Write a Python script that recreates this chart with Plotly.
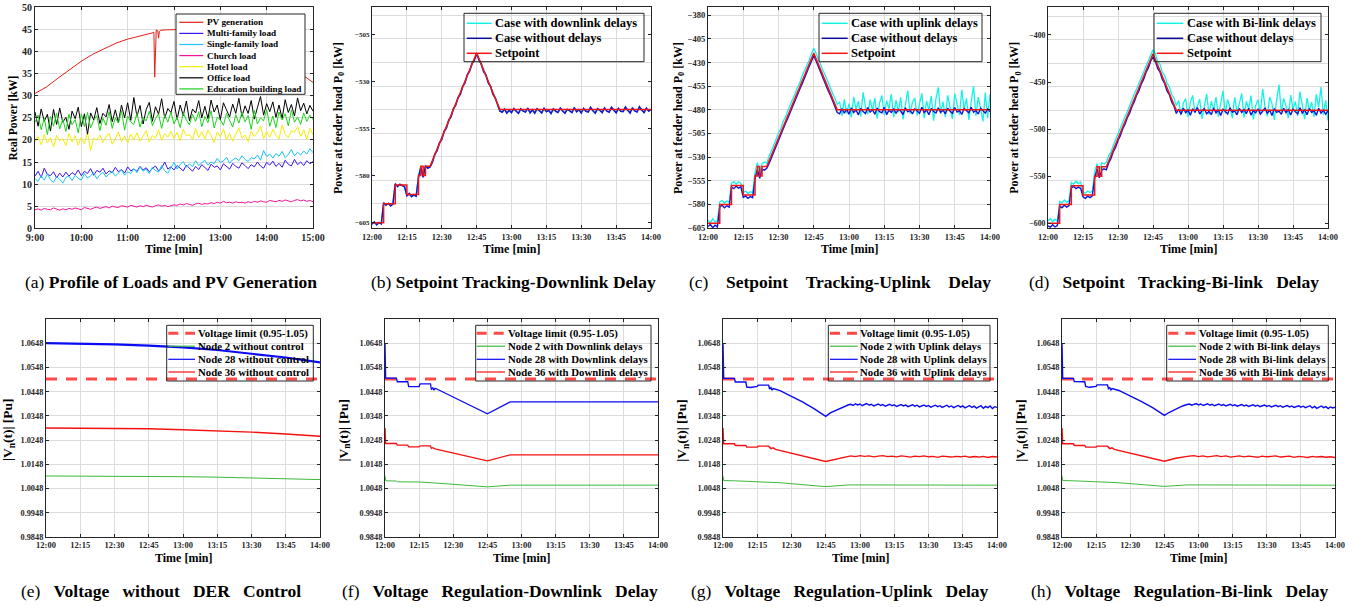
import plotly.graph_objects as go

W, H = 1359, 607
FONT = "Liberation Serif, Times New Roman, Times, serif"
GRID = "#dcdcdc"
AXC = "#262626"
NB = "\u00a0"


def px(x):
    return x / W


def py(y):
    return 1 - y / H


# ======================= DATA =======================
# ---- (a) Profile of loads and PV generation (minutes after 9:00) ----
a_tick_vals = [0, 60, 120, 180, 240, 300, 360]
a_tick_text = ["9:00", "10:00", "11:00", "12:00", "13:00", "14:00", "15:00"]
load_time = list(range(0, 361, 4))
pv_time = [0, 5, 15, 30, 45, 60, 75, 90, 105, 120, 135, 150, 154, 155, 156, 157, 159, 160, 161, 163,
           170, 180, 195, 210, 225, 240, 255, 270, 285, 300, 315, 330, 345, 360]
pv_power = [30.5, 31.0, 32.0, 34.0, 36.0, 37.8, 39.4, 40.7, 41.9, 42.8, 43.5, 44.1, 44.3, 34.2, 44.0, 44.9,
            44.7, 43.0, 44.5, 44.8, 44.9, 45.0, 45.0, 44.9, 44.6, 44.1, 43.3, 42.2, 41.0, 39.6, 38.2, 36.6,
            34.9, 33.0]
multi_family = [
    11.8, 12.9, 11.5, 13.6, 12.2, 11.9, 12.8, 11.4, 12.5, 11.6, 12.7,
    11.8, 12.6, 12.1, 13.2, 11.9, 12.9, 12.4, 13.5, 12.0, 13.1, 12.7,
    13.6, 12.3, 13.0, 12.6, 13.8, 12.8, 13.3, 12.5, 13.9, 13.0, 13.4,
    12.9, 14.0, 13.2, 13.7, 12.8, 13.5, 14.1, 13.0, 13.6, 15.0, 13.4,
    13.9, 13.2, 14.2, 13.6, 13.0, 14.3, 13.5, 12.9, 14.0, 13.3, 14.4,
    13.7, 13.1, 14.5, 13.8, 14.1, 13.2, 14.6, 13.9, 13.4, 14.7, 14.0,
    13.6, 14.8, 14.2, 13.5, 14.4, 13.9, 15.0, 14.1, 13.6, 14.9, 14.3,
    15.2, 14.0, 14.7, 13.8, 15.4, 14.5, 14.1, 15.6, 14.4, 15.0, 14.2,
    15.3, 14.6, 15.1]
single_family = [
    11.2, 10.6, 11.9, 10.9, 12.3, 11.0, 10.4, 11.7, 11.1, 10.2, 11.5,
    11.8, 10.8, 12.0, 11.3, 10.9, 12.4, 11.4, 11.9, 12.6, 11.2, 12.1,
    12.7, 11.6, 12.3, 12.9, 11.8, 12.5, 13.2, 12.0, 12.8, 12.4, 13.5,
    12.6, 13.9, 12.9, 13.4, 12.4, 13.8, 13.1, 12.7, 14.2, 13.0, 12.5,
    13.7, 14.9, 13.4, 14.4, 15.1, 13.8, 14.6, 13.9, 15.3, 14.2, 14.8,
    15.4, 14.3, 15.0, 14.6, 15.8, 14.9, 15.2, 16.1, 14.7, 15.5, 15.9,
    15.3, 16.4, 15.6, 15.1, 16.0, 15.7, 16.6, 15.4, 17.6, 16.2, 16.8,
    15.9, 16.9, 16.3, 17.4, 16.0, 16.7, 17.8, 16.4, 17.2, 16.6, 17.5,
    16.8, 18.0, 17.1]
church_load = [
    4.2, 4.4, 4.1, 4.5, 4.3, 4.2, 4.6, 4.3, 4.1, 4.4, 4.2,
    4.5, 4.3, 4.6, 4.4, 4.2, 4.7, 4.5, 4.3, 4.6, 4.8, 4.5,
    4.7, 4.9, 4.6, 5.0, 4.8, 4.7, 5.1, 4.9, 4.8, 5.2, 5.0,
    4.8, 5.1, 4.9, 5.2, 5.0, 4.8, 5.1, 5.3, 5.0, 5.2, 4.9,
    5.1, 5.3, 5.2, 5.5, 5.3, 5.6, 5.4, 5.2, 5.5, 5.7, 5.4,
    5.6, 5.5, 5.8, 5.6, 5.9, 5.7, 6.1, 5.8, 5.9, 5.7, 6.0,
    5.8, 5.9, 5.7, 6.0, 5.8, 6.1, 5.9, 6.2, 6.0, 5.9, 6.3,
    6.1, 6.0, 6.3, 6.1, 6.4, 6.2, 6.0, 6.3, 6.5, 6.2, 6.4,
    6.1, 6.3, 6.0]
hotel_load = [
    19.6, 20.8, 18.9, 21.2, 19.3, 20.5, 18.4, 21.0, 19.8, 20.3, 18.7,
    21.4, 19.5, 20.9, 18.8, 20.6, 19.1, 21.7, 17.6, 20.4, 19.9, 21.1,
    19.4, 20.7, 21.5, 19.0, 20.2, 21.8, 19.6, 20.9, 19.3, 21.3, 20.0,
    21.6, 19.7, 20.8, 22.1, 19.5, 21.0, 20.4, 22.3, 19.9, 21.4, 20.6,
    22.0, 20.3, 21.7, 19.8, 22.4, 20.9, 21.2, 20.1, 22.6, 20.5, 21.9,
    20.2, 22.2, 21.0, 19.4, 21.8, 20.7, 22.5, 20.0, 21.5, 19.7, 21.3,
    22.7, 20.4, 21.1, 19.6, 22.0, 20.8, 21.6, 23.2, 20.3, 21.9, 20.6,
    22.4, 21.0, 20.2, 23.4, 21.3, 20.5, 22.1, 21.7, 23.0, 20.8, 22.3,
    20.1, 22.6, 21.2]
office_load = [
    26.3, 23.1, 27.0, 24.2, 25.8, 22.0, 26.9, 23.5, 27.2, 24.0, 25.1,
    22.4, 26.5, 24.8, 27.4, 23.0, 25.9, 21.3, 26.1, 24.5, 27.3, 23.7,
    26.0, 25.2, 28.0, 24.1, 26.8, 23.9, 27.9, 25.0, 28.4, 24.4, 29.6,
    25.3, 27.8, 23.6, 26.9, 28.5, 24.2, 27.5, 25.8, 29.3, 24.9, 27.1,
    26.2, 28.7, 24.6, 27.9, 25.5, 28.8, 24.3, 27.0, 26.1, 28.9, 25.0,
    27.6, 24.8, 29.0, 26.3, 27.9, 24.5, 28.4, 26.8, 25.2, 28.1, 26.0,
    29.4, 25.3, 27.7, 26.0, 28.9, 24.7, 27.3, 29.8, 25.6, 28.2, 26.4,
    28.6, 25.1, 27.9, 24.8, 29.1, 26.2, 28.0, 25.4, 29.5, 26.6, 28.3,
    25.9, 27.8, 26.5]
education_load = [
    24.0, 25.6, 22.3, 24.9, 21.2, 25.3, 23.1, 26.0, 22.5, 24.7, 21.9,
    25.8, 23.4, 24.6, 21.6, 25.9, 23.0, 26.2, 22.7, 24.4, 25.5, 22.1,
    24.9, 23.3, 26.4, 22.6, 25.0, 23.8, 26.6, 22.2, 25.4, 24.1, 23.5,
    26.0, 22.9, 25.1, 24.3, 26.5, 23.2, 24.8, 25.9, 22.6, 25.6, 24.0,
    26.3, 23.6, 25.2, 22.8, 26.1, 24.5, 23.4, 25.8, 24.2, 26.4, 23.0,
    25.3, 23.9, 26.6, 22.7, 25.1, 24.6, 23.3, 26.0, 24.4, 22.9, 25.7,
    23.8, 26.2, 24.1, 25.5, 22.4, 26.7, 23.6, 25.0, 24.3, 26.9, 23.1,
    25.4, 22.8, 26.3, 24.5, 25.9, 23.2, 26.8, 24.0, 25.2, 23.5, 26.1,
    24.2, 25.6, 24.6]

# ---- (b)-(h) time axis: minutes after 12:00 ----
time_tick_vals = [0, 15, 30, 45, 60, 75, 90, 105, 120]
time_tick_text = ["12:00", "12:15", "12:30", "12:45", "13:00", "13:15", "13:30", "13:45", "14:00"]
minute = list(range(0, 121))

# ---- (b) setpoint tracking, downlink delay ----
b_ytick = [-605, -580, -555, -530, -505]
b_grid = [-595, -582.5, -570, -557.5, -545, -532.5, -520, -507.5, -495]
sp_b_time = [0, 5, 5, 10, 10, 15, 15, 20, 20, 21, 21, 22, 22, 23, 23, 25, 45, 55, 120]
sp_b_power = [-605, -605, -595, -595, -585, -585, -590, -590, -580, -580, -575, -575, -580, -580, -575, -575,
              -515, -545, -545]
nodelay_b = [
    -605.9, -604.6, -606.2, -604.9, -605.7, -594.4, -595.8, -594.7, -596.1, -595.2,
    -584.3, -585.9, -584.6, -585.4, -586.0, -590.7, -589.5, -591.2, -590.3, -591.0,
    -580.8, -575.6, -580.9, -574.8, -576.1, -575.4, -572.9, -568.6, -566.8, -562.7,
    -560.9, -556.5, -554.8, -550.6, -548.9, -544.4, -542.7, -538.5, -536.9, -532.6,
    -530.8, -526.4, -524.6, -520.5, -518.9, -515.3, -518.6, -520.7, -524.8, -526.5,
    -530.9, -532.6, -536.8, -538.7, -542.9, -545.8, -546.4, -544.7, -546.9, -545.3,
    -546.6, -544.4, -545.9, -547.0, -544.6, -545.8, -546.3, -544.2, -546.7, -545.1,
    -546.9, -544.5, -545.6, -546.8, -544.3, -546.1, -545.4, -547.1, -544.6, -545.9,
    -546.5, -544.2, -545.7, -546.9, -544.8, -545.5, -546.6, -543.9, -546.2, -545.0,
    -546.8, -544.4, -545.9, -546.3, -543.8, -545.6, -546.9, -544.5, -545.3, -546.6,
    -544.1, -545.8, -546.4, -543.7, -545.2, -546.7, -544.3, -545.9, -546.1, -543.6,
    -545.4, -546.8, -544.0, -545.7, -546.3, -543.5, -545.1, -546.6, -544.2, -545.8, -544.9]
delay_b = [
    -605.7, -604.8, -606.0, -605.1, -605.5, -594.6, -595.6, -594.9, -595.9, -595.0,
    -584.5, -585.7, -584.8, -585.2, -585.8, -590.5, -589.7, -591.0, -590.5, -590.8,
    -580.6, -575.4, -580.7, -575.0, -575.9, -575.2, -572.7, -568.8, -566.6, -562.9,
    -560.7, -556.7, -554.6, -550.8, -548.7, -544.6, -542.5, -538.7, -536.7, -532.8,
    -530.6, -526.6, -524.4, -520.7, -518.7, -515.1, -518.4, -520.9, -524.6, -526.7,
    -530.7, -532.8, -536.6, -538.9, -542.7, -545.6, -546.2, -544.9, -546.7, -545.5,
    -546.4, -544.6, -545.7, -546.8, -544.8, -545.6, -546.1, -544.4, -546.5, -545.3,
    -546.7, -544.7, -545.4, -546.6, -544.5, -545.9, -545.6, -546.9, -544.8, -545.7,
    -546.3, -544.4, -545.5, -546.7, -545.0, -545.3, -546.4, -544.1, -546.0, -545.2,
    -546.6, -544.6, -545.7, -546.1, -544.0, -545.4, -546.7, -544.7, -545.5, -546.4,
    -544.3, -545.6, -546.2, -543.9, -545.4, -546.5, -544.5, -545.7, -545.9, -543.8,
    -545.2, -546.6, -544.2, -545.5, -546.1, -543.7, -545.3, -546.4, -544.4, -545.6, -545.1]

# ---- (c)/(d) setpoint tracking, uplink / bi-link delay ----
c_ytick = [-605, -580, -555, -530, -505, -480, -455, -430, -405, -380]
d_ytick = [-600, -550, -500, -450, -400]
d_grid = [-605, -580, -555, -530, -505, -480, -455, -430, -405, -380]
sp_cd_time = [0, 5, 5, 10, 10, 15, 15, 20, 20, 21, 21, 22, 22, 23, 23, 25, 45, 55, 120]
sp_cd_power = [-600, -600, -580, -580, -560, -560, -570, -570, -550, -550, -540, -540, -550, -550, -540, -540,
               -420, -480, -480]
nodelay_c = [
    -603.5, -601.2, -604.6, -602.0, -603.8, -582.6, -580.9, -583.7, -581.5, -582.9,
    -561.8, -563.4, -560.7, -562.9, -561.4, -572.6, -571.0, -573.5, -571.8, -572.9,
    -552.7, -543.1, -552.4, -542.6, -543.8, -541.9, -536.7, -530.4, -524.8, -518.3,
    -512.9, -506.2, -500.8, -494.1, -488.7, -482.3, -476.9, -470.2, -464.6, -458.5,
    -452.8, -446.1, -440.7, -434.3, -428.9, -422.6, -428.4, -434.9, -440.2, -446.8,
    -452.3, -458.9, -464.1, -470.6, -476.4, -482.8, -484.1, -478.6, -483.5, -479.2,
    -484.7, -477.9, -482.8, -480.1, -485.3, -478.4, -481.7, -483.9, -477.6, -482.4,
    -479.8, -484.6, -478.1, -481.9, -483.2, -477.4, -485.0, -480.3, -482.6, -478.7,
    -483.8, -479.5, -481.2, -484.9, -477.8, -482.1, -480.6, -484.3, -478.9, -481.5,
    -483.6, -477.3, -482.9, -480.2, -485.1, -478.5, -481.8, -483.4, -477.9, -482.7,
    -480.4, -484.2, -478.2, -481.6, -483.7, -477.5, -482.3, -480.9, -484.8, -478.6,
    -481.4, -483.1, -477.2, -482.5, -480.7, -484.4, -478.3, -481.1, -483.5, -479.0, -481.9]
uplink_c = [
    -596.8, -599.5, -595.2, -598.6, -597.1, -577.4, -575.9, -578.8, -576.2, -577.9,
    -557.3, -555.8, -558.6, -556.2, -557.9, -567.2, -565.8, -568.5, -566.4, -567.9,
    -546.1, -535.8, -547.0, -536.9, -535.2, -536.4, -529.1, -523.6, -516.4, -511.2,
    -504.3, -499.7, -492.1, -487.4, -480.5, -475.2, -468.9, -463.1, -456.4, -451.7,
    -444.3, -439.1, -432.6, -427.4, -420.5, -414.8, -420.3, -427.1, -431.9, -438.6,
    -443.8, -450.4, -455.7, -462.3, -467.8, -474.2, -471.5, -486.3, -468.9, -483.7,
    -473.4, -488.1, -466.2, -479.5, -470.8, -486.9, -461.4, -476.3, -484.7, -469.1,
    -481.2, -467.4, -489.3, -472.6, -464.8, -485.4, -470.1, -478.9, -463.2, -487.6,
    -469.7, -482.5, -466.8, -490.2, -474.3, -459.6, -484.1, -471.8, -467.5, -486.2,
    -473.9, -462.4, -488.7, -470.6, -480.3, -465.1, -491.4, -468.3, -456.2, -483.9,
    -471.2, -487.8, -464.6, -476.9, -489.5, -462.8, -474.4, -485.6, -458.7, -479.3,
    -467.9, -490.6, -472.1, -454.8, -486.4, -466.5, -478.2, -492.3, -461.7, -488.9, -463.6]
nodelay_d = [
    -602.8, -604.1, -601.5, -603.9, -602.4, -581.7, -583.5, -580.8, -582.9, -581.3,
    -562.5, -560.9, -563.2, -561.6, -562.8, -571.9, -573.4, -571.2, -572.7, -570.8,
    -551.9, -542.4, -551.8, -543.5, -542.1, -543.2, -535.9, -531.2, -523.9, -519.1,
    -512.1, -507.0, -499.9, -494.9, -487.8, -483.1, -475.9, -471.0, -463.8, -459.2,
    -451.9, -446.9, -439.8, -435.0, -427.9, -423.1, -427.6, -435.5, -439.4, -447.3,
    -451.5, -459.4, -463.3, -471.2, -475.6, -483.4, -478.9, -484.2, -477.7, -482.6,
    -479.6, -485.2, -478.3, -482.1, -477.1, -484.0, -480.5, -478.2, -483.7, -481.0,
    -484.5, -477.6, -482.7, -479.4, -485.4, -478.8, -481.3, -483.9, -477.3, -482.0,
    -480.7, -484.8, -478.0, -482.4, -479.1, -483.6, -477.7, -485.1, -480.2, -482.8,
    -478.4, -484.1, -481.0, -477.5, -483.3, -479.7, -485.5, -478.1, -482.2, -480.8,
    -484.3, -477.9, -482.5, -479.2, -485.0, -478.6, -481.5, -483.8, -477.4, -482.9,
    -479.5, -484.6, -478.2, -482.3, -480.4, -485.3, -477.8, -483.0, -479.9, -484.1, -480.6]
bilink_d = [
    -597.5, -594.9, -598.3, -595.7, -597.9, -576.8, -578.4, -575.3, -577.6, -576.1,
    -556.6, -558.3, -555.4, -557.8, -556.1, -566.5, -568.1, -565.7, -567.3, -566.0,
    -545.4, -536.6, -546.2, -535.9, -536.8, -535.5, -528.4, -524.2, -517.1, -510.6,
    -505.0, -498.8, -492.9, -486.5, -481.2, -474.4, -469.6, -462.3, -457.1, -450.8,
    -445.0, -438.3, -433.2, -426.6, -421.3, -415.6, -419.6, -427.8, -431.2, -439.3,
    -443.1, -451.2, -455.0, -463.0, -467.1, -474.9, -469.7, -485.2, -472.4, -467.5,
    -487.3, -471.6, -464.1, -482.9, -476.4, -468.2, -489.0, -473.7, -462.6, -484.6,
    -470.3, -479.8, -465.9, -486.8, -473.0, -459.4, -483.3, -468.7, -477.2, -488.4,
    -466.1, -481.7, -472.9, -462.0, -487.9, -470.4, -478.6, -464.3, -489.7, -475.1,
    -468.6, -483.0, -457.3, -476.0, -486.5, -465.7, -473.2, -490.1, -469.0, -452.6,
    -481.8, -467.3, -475.6, -488.2, -463.9, -478.4, -470.7, -486.0, -460.2, -474.7,
    -489.4, -466.9, -480.6, -471.3, -487.1, -463.0, -476.8, -455.2, -484.9, -469.4, -490.8]

# ---- (e)-(h) voltages [pu] ----
v_ticks = [0.9848, 0.9948, 1.0048, 1.0148, 1.0248, 1.0348, 1.0448, 1.0548, 1.0648]
v_limit_time = [0, 120]
v_limit = [1.05, 1.05]

e_time = [0, 15, 30, 45, 60, 75, 90, 105, 120]
e_node28 = [1.0648, 1.0647, 1.0643, 1.0638, 1.0631, 1.0620, 1.0605, 1.0589, 1.0569]
e_node36 = [1.0298, 1.0298, 1.0297, 1.0295, 1.0291, 1.0287, 1.0281, 1.0273, 1.0264]
e_node2 = [1.0100, 1.0100, 1.0100, 1.0099, 1.0097, 1.0095, 1.0092, 1.0089, 1.0085]

f28_time = [0, 0.3, 5, 5.4, 10, 10.4, 15, 15.4, 20, 20.4, 21, 21.5, 22, 23, 45, 55, 120]
f28 = [1.0648, 1.0504, 1.0504, 1.0489, 1.0489, 1.0469, 1.0469, 1.0480, 1.0480, 1.0456, 1.0465, 1.0454,
       1.0462, 1.0458, 1.0357, 1.0406, 1.0406]
f36_time = [0, 0.3, 5, 5.4, 10, 10.4, 15, 15.4, 20, 20.4, 21, 22, 45, 55, 120]
f36 = [1.0298, 1.0234, 1.0234, 1.0227, 1.0227, 1.0220, 1.0220, 1.0224, 1.0224, 1.0214, 1.0217, 1.0212,
       1.0162, 1.0187, 1.0187]
f2_time = [0, 0.3, 5, 5.4, 15, 20, 22, 45, 55, 120]
f2 = [1.0100, 1.0080, 1.0079, 1.0076, 1.0075, 1.0074, 1.0071, 1.0055, 1.0062, 1.0062]

g28_head_time = [0, 0.3, 5, 5.4, 10, 10.4, 12, 15, 15.4, 20, 20.4, 21, 21.5, 22, 25, 30, 35, 40, 45, 47, 50, 53, 55]
g28_head = [1.0648, 1.0503, 1.0503, 1.0488, 1.0488, 1.0467, 1.0465, 1.0470, 1.0475, 1.0475, 1.0459, 1.0465,
            1.0454, 1.0461, 1.0452, 1.0430, 1.0405, 1.0377, 1.0346, 1.0360, 1.0374, 1.0387, 1.0394]
tail_time = list(range(56, 121))
g28_tail = [
    1.0396, 1.0391, 1.0398, 1.0393, 1.0397, 1.0390, 1.0395, 1.0399, 1.0392, 1.0396,
    1.0389, 1.0394, 1.0397, 1.0391, 1.0395, 1.0388, 1.0393, 1.0396, 1.0390, 1.0394,
    1.0387, 1.0392, 1.0395, 1.0389, 1.0393, 1.0386, 1.0391, 1.0394, 1.0388, 1.0392,
    1.0385, 1.0390, 1.0393, 1.0387, 1.0391, 1.0384, 1.0389, 1.0392, 1.0386, 1.0390,
    1.0383, 1.0388, 1.0392, 1.0385, 1.0389, 1.0382, 1.0388, 1.0391, 1.0384, 1.0389,
    1.0381, 1.0387, 1.0391, 1.0383, 1.0388, 1.0380, 1.0386, 1.0390, 1.0379, 1.0387,
    1.0382, 1.0389, 1.0378, 1.0386, 1.0383]
g36_head_time = [0, 0.3, 5, 5.4, 10, 10.4, 15, 15.4, 20, 21, 22, 23, 45, 50, 55]
g36_head = [1.0298, 1.0233, 1.0233, 1.0226, 1.0226, 1.0219, 1.0219, 1.0223, 1.0223, 1.0213, 1.0216, 1.0210,
            1.0160, 1.0172, 1.0181]
tail2_time = list(range(56, 121, 2))
g36_tail = [1.0183, 1.0180, 1.0184, 1.0181, 1.0183, 1.0179, 1.0182, 1.0184, 1.0180, 1.0182,
            1.0179, 1.0183, 1.0181, 1.0178, 1.0182, 1.0180, 1.0183, 1.0179, 1.0181, 1.0177,
            1.0182, 1.0180, 1.0178, 1.0181, 1.0179, 1.0182, 1.0177, 1.0180, 1.0178, 1.0181,
            1.0176, 1.0180, 1.0178]
g2_time = [0, 0.3, 5, 15, 20, 25, 45, 50, 55, 120]
g2 = [1.0100, 1.0081, 1.0080, 1.0076, 1.0075, 1.0072, 1.0056, 1.0060, 1.0063, 1.0062]

h28_head_time = [0, 0.3, 5, 5.4, 10, 10.4, 12, 15, 15.4, 20, 20.4, 21, 21.5, 22, 25, 30, 35, 40, 45, 47, 50, 53, 55]
h28_head = [1.0648, 1.0503, 1.0503, 1.0490, 1.0489, 1.0470, 1.0466, 1.0470, 1.0476, 1.0476, 1.0460, 1.0465,
            1.0455, 1.0461, 1.0453, 1.0431, 1.0407, 1.0381, 1.0350, 1.0362, 1.0376, 1.0389, 1.0395]
h28_tail = [
    1.0397, 1.0392, 1.0396, 1.0399, 1.0393, 1.0397, 1.0391, 1.0395, 1.0398, 1.0392,
    1.0396, 1.0390, 1.0394, 1.0397, 1.0391, 1.0395, 1.0389, 1.0393, 1.0396, 1.0390,
    1.0394, 1.0388, 1.0392, 1.0395, 1.0389, 1.0393, 1.0387, 1.0391, 1.0394, 1.0388,
    1.0392, 1.0386, 1.0390, 1.0393, 1.0387, 1.0391, 1.0385, 1.0389, 1.0392, 1.0386,
    1.0390, 1.0384, 1.0388, 1.0391, 1.0385, 1.0389, 1.0383, 1.0387, 1.0390, 1.0384,
    1.0388, 1.0382, 1.0386, 1.0390, 1.0381, 1.0387, 1.0379, 1.0385, 1.0389, 1.0382,
    1.0386, 1.0378, 1.0385, 1.0381, 1.0384]
h36_head_time = [0, 0.3, 5, 5.4, 10, 10.4, 15, 15.4, 20, 21, 22, 23, 45, 50, 55]
h36_head = [1.0298, 1.0233, 1.0233, 1.0226, 1.0226, 1.0219, 1.0219, 1.0223, 1.0223, 1.0213, 1.0216, 1.0210,
            1.0161, 1.0173, 1.0181]
h36_tail = [1.0182, 1.0184, 1.0180, 1.0183, 1.0179, 1.0182, 1.0184, 1.0180, 1.0183, 1.0178,
            1.0181, 1.0183, 1.0179, 1.0182, 1.0180, 1.0177, 1.0182, 1.0179, 1.0181, 1.0183,
            1.0178, 1.0180, 1.0182, 1.0177, 1.0181, 1.0179, 1.0176, 1.0181, 1.0178, 1.0180,
            1.0177, 1.0179, 1.0176]
h2_time = [0, 0.3, 5, 15, 20, 25, 45, 50, 55, 120]
h2 = [1.0100, 1.0081, 1.0080, 1.0076, 1.0075, 1.0072, 1.0057, 1.0060, 1.0063, 1.0062]

for s in [multi_family, single_family, church_load, hotel_load, office_load, education_load]:
    assert len(s) == len(load_time)
for s in [nodelay_b, delay_b, nodelay_c, uplink_c, nodelay_d, bilink_d]:
    assert len(s) == len(minute)
assert len(pv_time) == len(pv_power)
assert len(g28_tail) == len(tail_time) and len(h28_tail) == len(tail_time)
assert len(g36_tail) == len(tail2_time) and len(h36_tail) == len(tail2_time)
assert len(g28_head) == len(g28_head_time) and len(h28_head) == len(h28_head_time)
assert len(g36_head) == len(g36_head_time) and len(h36_head) == len(h36_head_time)
assert len(f28) == len(f28_time) and len(f36) == len(f36_time) and len(f2) == len(f2_time)

# ======================= FIGURE =======================
PANELS = {  # pixel boxes: left, right, top, bottom
    "a": (35, 313, 7.3, 228.3),
    "b": (372, 651, 7.3, 228.3),
    "c": (708, 990, 7.3, 228.3),
    "d": (1048, 1328, 7.3, 228.3),
    "e": (46, 320, 319, 537),
    "f": (385, 658, 319, 537),
    "g": (723, 997, 319, 537),
    "h": (1062, 1335, 319, 537),
}
IDX = {k: i for i, k in enumerate("abcdefgh", start=1)}

fig = go.Figure()


def ax_names(key):
    i = IDX[key]
    return ("x" if i == 1 else f"x{i}"), ("y" if i == 1 else f"y{i}")


def add_line(key, x, y, color, width, name, dash=None, opacity=1.0):
    xa, ya = ax_names(key)
    fig.add_trace(go.Scatter(x=x, y=y, mode="lines", name=name, showlegend=False,
                             line=dict(color=color, width=width, dash=dash), opacity=opacity,
                             xaxis=xa, yaxis=ya, hoverinfo="skip"))


# (a)
C_PV, C_MF, C_SF, C_CH, C_HO, C_OF, C_ED = "#e3201c", "#3c14f0", "#1cc4f8", "#f0149c", "#f5ec00", "#000000", "#1ed21e"
add_line("a", pv_time, pv_power, C_PV, 1, "PV generation")
add_line("a", load_time, multi_family, C_MF, 1, "Multi-family load")
add_line("a", load_time, single_family, C_SF, 1, "Single-family load")
add_line("a", load_time, church_load, C_CH, 1, "Church load")
add_line("a", load_time, hotel_load, C_HO, 1, "Hotel load")
add_line("a", load_time, office_load, C_OF, 1, "Office load")
add_line("a", load_time, education_load, C_ED, 1, "Education building load")

C_CY, C_BL, C_RD = "#14f2e6", "#1414d2", "#f01414"
# (b)
add_line("b", minute, delay_b, C_CY, 1.5, "Case with downlink delays")
add_line("b", minute, nodelay_b, C_BL, 1.5, "Case without delays")
add_line("b", sp_b_time, sp_b_power, C_RD, 1.5, "Setpoint")
# (c)
add_line("c", minute, uplink_c, C_CY, 1.3, "Case with uplink delays")
add_line("c", minute, nodelay_c, C_BL, 1.4, "Case without delays")
add_line("c", sp_cd_time, sp_cd_power, C_RD, 1.5, "Setpoint")
# (d)
add_line("d", minute, bilink_d, C_CY, 1.3, "Case with Bi-link delays")
add_line("d", minute, nodelay_d, C_BL, 1.4, "Case without delays")
add_line("d", sp_cd_time, sp_cd_power, C_RD, 1.5, "Setpoint")

C_LIM, C_G, C_B, C_R = "#ff4a4a", "#3cb83c", "#0a0af5", "#f51010"
DASH = "11px,9px"
# (e)
add_line("e", v_limit_time, v_limit, C_LIM, 3, "Voltage limit (0.95-1.05)", dash=DASH)
add_line("e", e_time, e_node2, C_G, 1, "Node 2 without control")
add_line("e", e_time, e_node28, C_B, 2.2, "Node 28 without control")
add_line("e", e_time, e_node36, C_R, 1.4, "Node 36 without control")
# (f)
add_line("f", v_limit_time, v_limit, C_LIM, 3, "Voltage limit (0.95-1.05)", dash=DASH)
add_line("f", f2_time, f2, C_G, 1, "Node 2 with Downlink delays")
add_line("f", f28_time, f28, C_B, 1.3, "Node 28 with Downlink delays")
add_line("f", f36_time, f36, C_R, 1.3, "Node 36 with Downlink delays")
# (g)
add_line("g", v_limit_time, v_limit, C_LIM, 3, "Voltage limit (0.95-1.05)", dash=DASH)
add_line("g", g2_time, g2, C_G, 1, "Node 2 with Uplink delays")
add_line("g", g28_head_time + tail_time, g28_head + g28_tail, C_B, 1.4, "Node 28 with Uplink delays")
add_line("g", g36_head_time + tail2_time, g36_head + g36_tail, C_R, 1.4, "Node 36 with Uplink delays")
# (h)
add_line("h", v_limit_time, v_limit, C_LIM, 3, "Voltage limit (0.95-1.05)", dash=DASH)
add_line("h", h2_time, h2, C_G, 1, "Node 2 with Bi-link delays")
add_line("h", h28_head_time + tail_time, h28_head + h28_tail, C_B, 1.4, "Node 28 with Bi-link delays")
add_line("h", h36_head_time + tail2_time, h36_head + h36_tail, C_R, 1.4, "Node 36 with Bi-link delays")


def base_axis(size):
    return dict(showline=True, linecolor=AXC, linewidth=1, mirror="ticks", ticks="inside", ticklen=3,
                tickcolor=AXC, showgrid=True, gridcolor=GRID, gridwidth=1, zeroline=False, fixedrange=True,
                automargin=False, tickfont=dict(family=FONT, size=size, color=AXC, weight="bold"))


layout = {}
for key, (x0, x1, y0, y1) in PANELS.items():
    i = IDX[key]
    xs = "xaxis" if i == 1 else f"xaxis{i}"
    ys = "yaxis" if i == 1 else f"yaxis{i}"
    layout[xs] = dict(domain=[px(x0), px(x1)], anchor=("y" if i == 1 else f"y{i}"), **base_axis(8.5))
    layout[ys] = dict(domain=[py(y1), py(y0)], anchor=("x" if i == 1 else f"x{i}"), **base_axis(8.3))

# x axes
layout["xaxis"].update(range=[0, 360], tickmode="array", tickvals=a_tick_vals, ticktext=a_tick_text,
                       tickfont=dict(family=FONT, size=10, color=AXC, weight="bold"))
for i in range(2, 9):
    layout[f"xaxis{i}"].update(range=[0, 120], tickmode="array", tickvals=time_tick_vals, ticktext=time_tick_text)
# y axes
layout["yaxis"].update(range=[0, 50], tickmode="linear", tick0=0, dtick=5,
                       tickfont=dict(family=FONT, size=10, color=AXC, weight="bold"))
layout["yaxis2"].update(range=[-608, -490.7], tickmode="array", tickvals=b_ytick, showgrid=False,
                        tickfont=dict(family=FONT, size=7, color=AXC, weight="bold"),
                        minor=dict(tickmode="array", tickvals=b_grid, showgrid=True, gridcolor=GRID, ticks=""))
layout["yaxis3"].update(range=[-605.3, -371.5], tickmode="array", tickvals=c_ytick,
                        tickfont=dict(family=FONT, size=8.5, color=AXC, weight="bold"))
layout["yaxis4"].update(range=[-605.3, -370.6], tickmode="array", tickvals=d_ytick, showgrid=False,
                        tickfont=dict(family=FONT, size=7.8, color=AXC, weight="bold"),
                        minor=dict(tickmode="array", tickvals=d_grid, showgrid=True, gridcolor=GRID, ticks=""))
for i in range(5, 9):
    layout[f"yaxis{i}"].update(range=[0.9848, 1.0748], tickmode="array", tickvals=v_ticks, tickformat=".4f")

fig.update_layout(width=W, height=H, autosize=False,
                  margin=dict(l=0, r=0, t=0, b=0, pad=0, autoexpand=False),
                  paper_bgcolor="white", plot_bgcolor="white", showlegend=False,
                  font=dict(family=FONT), **layout)


def text(x, y, s, size, bold=True, angle=0, xanchor="center", color="black"):
    fig.add_annotation(x=px(x), y=py(y), xref="paper", yref="paper", text=s, showarrow=False,
                       xanchor=xanchor, yanchor="middle", textangle=angle,
                       font=dict(family=FONT, size=size, color=color, weight=("bold" if bold else "normal")))


def legend(box, entries, line_x, text_x, ys, size, fill):
    x0, y0, x1, y1 = box
    fig.add_shape(type="rect", xref="paper", yref="paper", x0=px(x0), x1=px(x1), y0=py(y1), y1=py(y0),
                  line=dict(color=AXC, width=1), fillcolor=fill, layer="above")
    for (label, color, width, dash), yy in zip(entries, ys):
        fig.add_shape(type="line", xref="paper", yref="paper", x0=px(line_x[0]), x1=px(line_x[1]),
                      y0=py(yy), y1=py(yy), line=dict(color=color, width=width, dash=dash), layer="above")
        text(text_x, yy, label, size, xanchor="left")


# legends
legend((176, 14, 305, 94.3),
       [("PV generation", C_PV, 1.2, None), ("Multi-family load", C_MF, 1.2, None),
        ("Single-family load", C_SF, 1.2, None), ("Church load", C_CH, 1.2, None),
        ("Hotel load", C_HO, 1.2, None), ("Office load", C_OF, 1.2, None),
        ("Education building load", C_ED, 1.2, None)],
       (179.3, 203.3), 205, [22.3 + 11.1 * k for k in range(7)], 9.2, "white")
top_ys = [23.3, 38.3, 53.3]
legend((464, 13.3, 644, 61.7),
       [("Case with downlink delays", C_CY, 1.5, None), ("Case without delays", "#0a0a9a", 1.5, None),
        ("Setpoint", C_RD, 1.5, None)], (466.7, 491.7), 493, top_ys, 12.5, "rgba(0,0,0,0)")
legend((819, 13.3, 982, 61.7),
       [("Case with uplink delays", C_CY, 1.5, None), ("Case without delays", "#0a0a9a", 1.5, None),
        ("Setpoint", C_RD, 1.5, None)], (821.7, 847.7), 848.5, top_ys, 12.5, "rgba(0,0,0,0)")
legend((1154, 13.3, 1321, 61.7),
       [("Case with Bi-link delays", C_CY, 1.5, None), ("Case without delays", "#0a0a9a", 1.5, None),
        ("Setpoint", C_RD, 1.5, None)], (1156.7, 1183.3), 1184.5, top_ys, 12.5, "rgba(0,0,0,0)")
bot_ys = [333.3, 346.2, 359.3, 372]
for box, lx, tx, suffix in [((166.7, 325.3, 313.3, 381), (168.3, 195), 196, "without control"),
                            ((475.7, 325.3, 651, 381), (476.7, 505), 505.5, "with Downlink delays"),
                            ((828.3, 325.3, 990, 381), (830, 857.7), 858, "with Uplink delays"),
                            ((1166.7, 325.3, 1328.3, 381), (1168.3, 1196), 1196.5, "with Bi-link delays")]:
    legend(box, [("Voltage limit (0.95-1.05)", C_LIM, 3, "10px,7px"), (f"Node 2 {suffix}", C_G, 1.2, None),
                 (f"Node 28 {suffix}", C_B, 1.2, None), (f"Node 36 {suffix}", C_R, 1.2, None)],
           lx, tx, bot_ys, 10.8, "rgba(0,0,0,0)")

# axis titles
for key in "abcd":
    x0, x1, _, _ = PANELS[key]
    text((x0 + x1) / 2, 249, "Time [min]", 12)
for key in "efgh":
    x0, x1, _, _ = PANELS[key]
    text((x0 + x1) / 2, 558, "Time [min]", 12)
text(12.7, 117.8, "Real Power [kW]", 11.5, angle=-90)
for xx in [338.3, 678.3, 1015]:
    text(xx, 117.8, "Power at feeder head P<sub>0</sub> [kW]", 12, angle=-90)
for xx in [8, 343.5, 681.7, 1020.7]:
    text(xx, 430, "|V<sub>n</sub>(t)| [Pu]", 13.5, angle=-90)


# captions
def caption(x, y, letter, words, extra):
    gap = " " + NB * extra
    s = f"({letter})" + gap + "<b>" + gap.join(words) + "</b>"
    text(x, y, s, 17.5, bold=False)


caption(171, 282, "a", ["Profile", "of", "Loads", "and", "PV", "Generation"], 0)
caption(513, 282, "b", ["Setpoint", "Tracking-Downlink", "Delay"], 0)
caption(840, 282, "c", ["Setpoint", "Tracking-Uplink", "Delay"], 3)
caption(1174, 282, "d", ["Setpoint", "Tracking-Bi-link", "Delay"], 2)
caption(161, 591, "e", ["Voltage", "without", "DER", "Control"], 2)
caption(500, 591, "f", ["Voltage", "Regulation-Downlink", "Delay"], 2)
caption(840, 591, "g", ["Voltage", "Regulation-Uplink", "Delay"], 2)
caption(1180, 591, "h", ["Voltage", "Regulation-Bi-link", "Delay"], 2)

fig.write_html("out.html", config={"displayModeBar": False, "staticPlot": True},
               post_script="document.body.style.margin='0px';document.body.style.overflow='hidden';")
